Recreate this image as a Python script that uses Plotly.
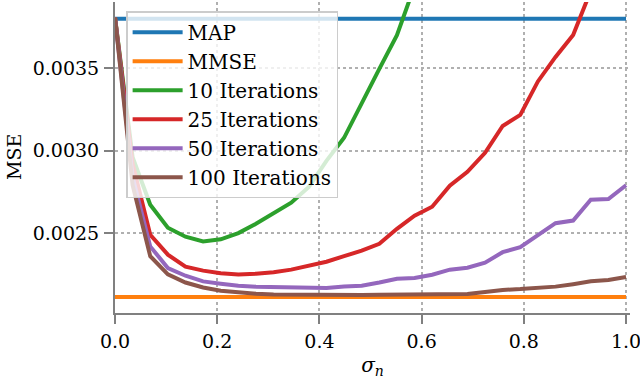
import numpy as np
import plotly.graph_objects as go

# sigma_n grid (30 evenly spaced points)
sigma_n = np.linspace(0, 1, 30)

map_mse = 0.0038
mmse_mse = 0.002112

it10 = [0.00381, 0.00296, 0.002672, 0.002532, 0.002478, 0.002449, 0.002462, 0.0025,
        0.002556, 0.002617, 0.002684, 0.00278, 0.002938, 0.003078, 0.00329, 0.003496,
        0.0037, 0.00399, 0.0043, 0.0046, 0.0049, 0.0052, 0.0055, 0.0058, 0.0061,
        0.0064, 0.0067, 0.0070, 0.0073, 0.0076]
it25 = [0.00381, 0.00292, 0.00249, 0.002369, 0.002296, 0.002272, 0.002256, 0.002249,
        0.002253, 0.002262, 0.002278, 0.002305, 0.002326, 0.00236, 0.002393, 0.002435,
        0.002526, 0.002605, 0.00266, 0.002787, 0.002872, 0.002987, 0.00315, 0.003217,
        0.00342, 0.003569, 0.003702, 0.00397, 0.0042, 0.0045]
it50 = [0.00381, 0.00284, 0.002419, 0.002288, 0.002241, 0.002207, 0.002193, 0.00218,
        0.002175, 0.002172, 0.00217, 0.002163, 0.002166, 0.002176, 0.00218, 0.0022,
        0.002223, 0.002227, 0.002247, 0.002278, 0.00229, 0.00232, 0.002384, 0.002415,
        0.00249, 0.00256, 0.002576, 0.002702, 0.002706, 0.00279]
it100 = [0.00381, 0.00279, 0.00236, 0.00225, 0.0022, 0.00217, 0.00215, 0.00214,
         0.002132, 0.002128, 0.002126, 0.002125, 0.002124, 0.002124, 0.002124, 0.002125,
         0.002126, 0.002128, 0.00213, 0.002132, 0.00213, 0.002142, 0.002155, 0.00216,
         0.002168, 0.002175, 0.00219, 0.002207, 0.002215, 0.002233]

series = [
    ("MAP", [map_mse] * len(sigma_n), "#1f77b4"),
    ("MMSE", [mmse_mse] * len(sigma_n), "#ff7f0e"),
    ("10 Iterations", it10, "#2ca02c"),
    ("25 Iterations", it25, "#d62728"),
    ("50 Iterations", it50, "#9467bd"),
    ("100 Iterations", it100, "#8c564b"),
]

fig = go.Figure()
for name, y, col in series:
    fig.add_trace(go.Scatter(x=sigma_n, y=y, mode="lines", name=name,
                             line=dict(color=col, width=4)))

font = "DejaVu Serif"
axis_common = dict(
    showline=True, linecolor="#808080", linewidth=2,
    ticks="outside", ticklen=9, tickwidth=2, tickcolor="#808080",
    showgrid=True, gridcolor="#b0b0b0", griddash="dot", gridwidth=1.5,
    zeroline=False, mirror=False, automargin=False,
    ticklabeloverflow="allow",
    tickfont=dict(family=font, size=19, color="black"),
)

fig.update_xaxes(range=[0, 1.0078], tickvals=[0, 0.2, 0.4, 0.6, 0.8, 1.0],
                 tickformat=".1f", ticklabelstandoff=1,
                 title=dict(text="<i>σ</i><sub><i>n</i></sub>", standoff=10,
                            font=dict(family=font, size=20, color="black")),
                 **axis_common)
fig.update_yaxes(range=[0.002015, 0.003902], tickvals=[0.0025, 0.0030, 0.0035],
                 tickformat=".4f", ticklabelstandoff=1,
                 **axis_common)

# y-axis title placed as an annotation so it can sit close to the edge
fig.add_annotation(text="MSE", textangle=-90, xref="paper", yref="paper",
                   x=-0.196, y=0.502, xanchor="center", yanchor="middle",
                   showarrow=False, font=dict(family=font, size=19, color="black"))

fig.update_layout(
    width=640, height=379,
    margin=dict(l=115, r=10, t=2, b=66),
    plot_bgcolor="white", paper_bgcolor="white",
    font=dict(family=font, size=19, color="black"),
    legend=dict(x=0.0216, y=0.97, xanchor="left", yanchor="top",
                bgcolor="rgba(255,255,255,0.8)", bordercolor="#cccccc",
                borderwidth=1.5, font=dict(family=font, size=20, color="black"),
                itemwidth=50, tracegroupgap=0),
    showlegend=True,
)

# drop the browser's default body margin so the figure sits at the page corner
fig.write_html("out.html", config={"displayModeBar": False},
               post_script="document.body.style.margin='0';")
